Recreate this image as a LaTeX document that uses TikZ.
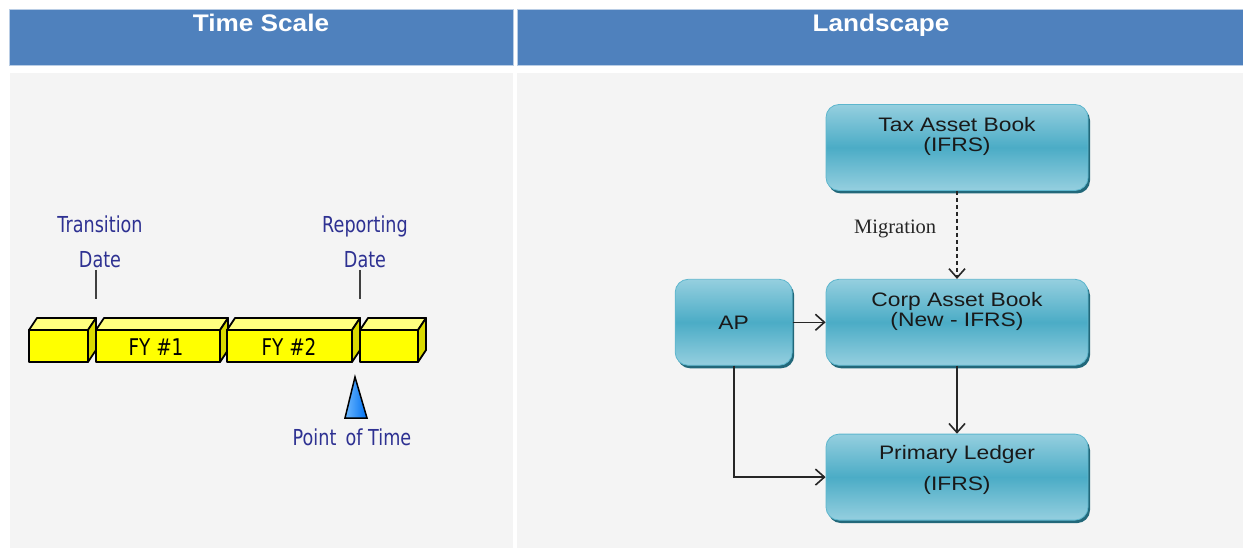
\documentclass[tikz,border=0pt]{standalone}
\usepackage{fontspec}
\setmainfont{Liberation Sans}
\newfontfamily\headfont[FakeStretch=1.09]{Liberation Sans}
\newfontfamily\bookfont[FakeStretch=1.17]{Liberation Sans}
\newfontfamily\tlfont[FakeStretch=0.8]{DejaVu Sans}
\newfontfamily\migfont{Liberation Serif}
\usetikzlibrary{arrows.meta,shadows,positioning}
\definecolor{headblue}{HTML}{4F81BD}
\definecolor{panelgray}{HTML}{F4F4F4}
\definecolor{tllabel}{HTML}{2E3192}
\definecolor{booklight}{HTML}{95CFDF}
\definecolor{bookmid}{HTML}{4BACC6}
\definecolor{bookedge}{HTML}{5DB6CD}
\definecolor{bookshadow}{HTML}{22687A}
\definecolor{fyfront}{HTML}{FFFF00}
\definecolor{fytop}{HTML}{FFFF80}
\definecolor{fyside}{HTML}{D9D900}
\definecolor{trilight}{HTML}{6CB8FF}
\definecolor{tridark}{HTML}{0070F0}
\tikzset{
  header/.style={fill=headblue, draw=headblue!40, line width=0.8pt},
  headtext/.style={text=white, font=\headfont\bfseries\fontsize{24}{28}\selectfont, anchor=base, inner sep=0pt},
  tltext/.style={text=tllabel, font=\tlfont\fontsize{22}{26}\selectfont, anchor=base, inner sep=0pt},
  fytext/.style={text=black, font=\tlfont\fontsize{23}{26}\selectfont, anchor=base, inner sep=0pt},
  fybox/.style={draw=black, line width=1.8pt, line join=round},
  tick/.style={draw=black!75, line width=1.5pt},
  book/.style={rounded corners=13pt, draw=bookedge, line width=0.8pt,
    top color=booklight, bottom color=booklight, middle color=bookmid,
    drop shadow={shadow xshift=2pt, shadow yshift=-3pt, fill=bookshadow, opacity=1},
    minimum width=262pt, minimum height=86pt},
  booktext/.style={font=\bookfont\fontsize{19.5}{20}\selectfont, align=center, inner sep=0pt, text=black!90},
  migtext/.style={font=\migfont\fontsize{20.5}{22}\selectfont, text=black!85, inner sep=0pt},
  flow/.style={draw=black!85, line width=1.6pt, -{Straight Barb[length=9pt,width=16pt]}},
}
\begin{document}
\begin{tikzpicture}[x=1pt,y=-1pt]
\useasboundingbox (0,0) rectangle (1243,548);
\fill[white] (0,0) rectangle (1243,548);
% panels
\fill[panelgray] (10,73) rectangle (513,548);
\fill[panelgray] (517,73) rectangle (1243,548);
\draw[header] (9,9) rectangle (513,65);
\draw[header] (517,9) rectangle (1243,65);
\node[headtext] (timehead) at (261,32) {Time Scale};
\node[headtext] (landhead) at (881,32) {Landscape};
% time scale
\node[tltext] (trans1) at (100,233) {Transition};
\node[tltext] (trans2) at (100,268) {Date};
\node[tltext] (rep1) at (365,233) {Reporting};
\node[tltext] (rep2) at (365,268) {Date};
\coordinate (trtop) at (96,270);
\coordinate (trbot) at (96,299);
\coordinate (reptop) at (360,270);
\coordinate (repbot) at (360,299);
\draw[tick] (trtop) -- (trbot);
\draw[tick] (reptop) -- (repbot);
\foreach \xa/\xb in {29/88,96/220,227/352,360/418}
{
\draw[fybox, fill=fytop] (\xa,330) -- (\xa+8,318) -- (\xb+8,318) -- (\xb,330) -- cycle;
\draw[fybox, fill=fyside] (\xb,330) -- (\xb+8,318) -- (\xb+8,350) -- (\xb,362) -- cycle;
\draw[fybox, fill=fyfront] (\xa,330) rectangle (\xb,362);
}
\node[fytext] (fy1) at (156,355) {FY \#1};
\node[fytext] (fy2) at (289,355) {FY \#2};
\draw[draw=black, line width=1.5pt, left color=trilight, right color=tridark] (345,418) -- (355,377) -- (367,418) -- cycle;
\node[tltext] (pot) at (352,445) {Point\, of Time};
% landscape
\node[book] (tax) at (957,147.5) {};
\node[book, below=88pt of tax] (corp) {};
\node[book, minimum width=117pt, left=33pt of corp] (ap) {};
\node[book, below=68pt of corp] (primary) {};
\node[booktext] (taxtxt) at ([yshift=11pt]tax.center) {Tax Asset Book\\(IFRS)};
\node[booktext] (corptxt) at ([yshift=11pt]corp.center) {Corp Asset Book\\(New - IFRS)};
\node[booktext] (aptxt) at (ap.center) {AP};
\node[booktext] (primarytxt) at ([yshift=7pt]primary.center) {Primary Ledger\\[11pt](IFRS)};
\draw[flow, dash pattern=on 4pt off 3pt] (tax) -- node[migtext, pos=0.43, left=20pt] (miglabel) {Migration} (corp);
\draw[flow] (ap) -- (corp);
\draw[flow] (corp) -- (primary);
\draw[flow] (ap.south) |- (primary.west);
\end{tikzpicture}
\end{document}
